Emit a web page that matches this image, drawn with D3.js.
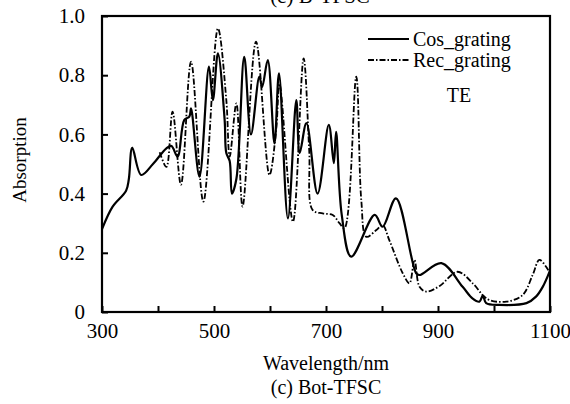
<!DOCTYPE html>
<html>
<head>
<meta charset="utf-8">
<script src="https://cdn.jsdelivr.net/npm/d3@7"></script>
<style>
  body { margin: 0; background: #fff; }
  svg text { font-family: 'Liberation Serif', 'DejaVu Serif', serif; fill: #000; }
</style>
</head>
<body>
<div id="chart"></div>
<script>
// wavelength (nm) / absorption
const cosWl = [300, 319, 343, 348, 354, 370, 391, 415, 424, 435, 447, 456, 459, 474, 491, 498, 507,
  519, 522, 528, 532, 540, 554, 566, 581, 586, 596, 608, 616, 632, 647, 653, 665, 685, 705, 714, 718,
  728, 745, 787, 801, 825, 861, 867, 906, 944, 962, 974, 980, 986, 1010, 1058, 1075, 1087, 1100];
const cosAbs = [0.28, 0.356, 0.41, 0.45, 0.555, 0.463, 0.50, 0.553, 0.561, 0.525, 0.649, 0.66, 0.688, 0.457, 0.829, 0.716, 0.874,
  0.649, 0.537, 0.51, 0.40, 0.45, 0.862, 0.60, 0.795, 0.76, 0.851, 0.57, 0.806, 0.316, 0.716, 0.537, 0.638, 0.40, 0.632, 0.503, 0.609,
  0.33, 0.187, 0.328, 0.288, 0.384, 0.131, 0.125, 0.165, 0.085, 0.045, 0.035, 0.055, 0.03, 0.024, 0.03, 0.052, 0.085, 0.14];

const recWl = [403, 415, 426, 441, 459, 481, 507, 522, 528, 540, 551, 575, 599, 611, 617, 641, 660, 670, 676,
  694, 712, 724, 733, 754, 763, 772, 790, 801, 813, 837, 849, 858, 867, 879, 903, 935, 962, 980, 992,
  1022, 1051, 1069, 1081, 1093, 1100];
const recAbs = [0.54, 0.49, 0.677, 0.43, 0.846, 0.373, 0.958, 0.716, 0.525, 0.705, 0.356, 0.913, 0.463, 0.615, 0.77, 0.305, 0.857, 0.547, 0.345,
  0.333, 0.328, 0.30, 0.283, 0.795, 0.378, 0.254, 0.277, 0.294, 0.243, 0.131, 0.097, 0.176, 0.085, 0.069, 0.088, 0.136, 0.097, 0.057, 0.04,
  0.035, 0.057, 0.125, 0.176, 0.153, 0.13];

const xTicks = [300, 400, 500, 600, 700, 800, 900, 1000, 1100];
const xLabels = [300, 500, 700, 900, 1100];
const yTicks = [0, 0.2, 0.4, 0.6, 0.8, 1.0];

const serif = "'Liberation Serif', 'DejaVu Serif', serif";
const width = 570, height = 404;
const margin = { top: 16, right: 20, bottom: 92, left: 102 };

const svg = d3.select('#chart').append('svg')
  .attr('width', width).attr('height', height)
  .attr('font-family', serif);

const x = d3.scaleLinear().domain([300, 1100]).range([margin.left, width - margin.right]);
const y = d3.scaleLinear().domain([0, 1]).range([height - margin.bottom, margin.top]);

const addText = (sel, px, py, str, size, anchor) => sel.append('text')
  .attr('x', px).attr('y', py).attr('text-anchor', anchor || 'start')
  .attr('font-family', serif).attr('font-size', size).text(str);

// clipped title at the very top
addText(svg, 320, 3, '(c) B-TFSC', 21, 'middle');

const line = d3.line()
  .x((d) => x(d[0])).y((d) => y(d[1]))
  .curve(d3.curveCatmullRom.alpha(0.5));

svg.append('clipPath').attr('id', 'clip').append('rect')
  .attr('x', x(300)).attr('y', y(1)).attr('width', x(1100) - x(300)).attr('height', y(0) - y(1));

const g = svg.append('g').attr('clip-path', 'url(#clip)');

g.append('path')
  .datum(recWl.map((w, i) => [w, recAbs[i]]))
  .attr('d', line).attr('fill', 'none').attr('stroke', '#000')
  .attr('stroke-width', 1.8).attr('stroke-dasharray', '6,2,1.5,2');

g.append('path')
  .datum(cosWl.map((w, i) => [w, cosAbs[i]]))
  .attr('d', line).attr('fill', 'none').attr('stroke', '#000')
  .attr('stroke-width', 2.2);

// axes
const xAxis = svg.append('g')
  .attr('transform', `translate(0,${y(0)})`)
  .call(d3.axisBottom(x).tickValues(xTicks).tickSize(-6).tickPadding(11)
    .tickFormat((d) => (xLabels.includes(d) ? d : '')));

const yAxis = svg.append('g')
  .attr('transform', `translate(${x(300)},0)`)
  .call(d3.axisLeft(y).tickValues(yTicks).tickSize(-6).tickPadding(17)
    .tickFormat((d) => (d === 0 ? '0' : d3.format('.1f')(d))));

[xAxis, yAxis].forEach((a) => {
  a.attr('font-family', serif).attr('font-size', 21);
  a.select('.domain').remove();
  a.selectAll('line').attr('stroke', '#000').attr('stroke-width', 2);
  a.selectAll('text').attr('fill', '#000').attr('font-family', serif);
});

svg.append('rect')
  .attr('x', x(300)).attr('y', y(1))
  .attr('width', x(1100) - x(300)).attr('height', y(0) - y(1))
  .attr('fill', 'none').attr('stroke', '#000').attr('stroke-width', 2.2);

// legend
const legend = svg.append('g');
legend.append('line').attr('x1', 368).attr('x2', 409).attr('y1', 39).attr('y2', 39)
  .attr('stroke', '#000').attr('stroke-width', 2.2);
addText(legend, 413, 46, 'Cos_grating', 20);
legend.append('line').attr('x1', 368).attr('x2', 409).attr('y1', 60).attr('y2', 60)
  .attr('stroke', '#000').attr('stroke-width', 1.8).attr('stroke-dasharray', '6,2,1.5,2');
addText(legend, 413, 67, 'Rec_grating', 20);
addText(legend, 459, 102, 'TE', 20, 'middle');

// axis titles
svg.append('text').attr('transform', 'translate(26,160) rotate(-90)')
  .attr('text-anchor', 'middle').attr('font-family', serif).attr('font-size', 19).text('Absorption');
addText(svg, 326, 370, 'Wavelength/nm', 20, 'middle');
addText(svg, 326, 394, '(c) Bot-TFSC', 20, 'middle');
</script>
</body>
</html>
